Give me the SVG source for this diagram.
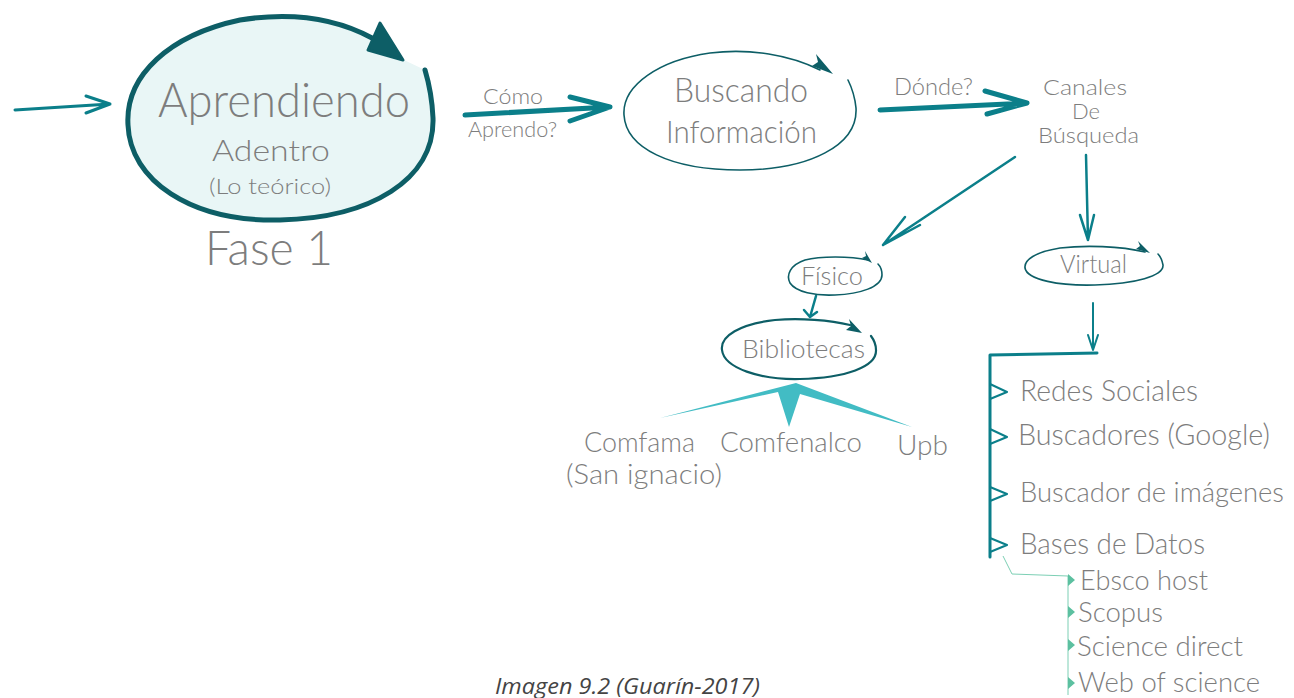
<svg xmlns="http://www.w3.org/2000/svg" width="1294" height="698" viewBox="0 0 1294 698">
<style>
.t{font-family:"Lato","Open Sans","Liberation Sans",sans-serif;font-weight:300;fill:#7d7d7d}
.c{fill:none;stroke:#0b7f8a;stroke-linecap:round;stroke-linejoin:round}
.d{fill:none;stroke:#0d5e66;stroke-linecap:round}
.h{fill:#0d5e66}
.g{fill:#5cc0a0}
</style>
<rect width="1294" height="698" fill="#fff"/>
<g id="connectors">
  <path class="c" stroke-width="3" d="M15,110 L110,104 M86,96 L110,104 L86,113"/>
  <path class="c" stroke-width="5" d="M465,115 L610,107 M570,97 L610,107 L570,121"/>
  <path class="c" stroke-width="5" d="M880,110 L1027,103 M985,91 L1027,103 L987,114"/>
  <path class="c" stroke-width="2.5" d="M1015,157 L883,245 M905,217 L883,245 M920,225 L883,245"/>
  <path class="c" stroke-width="2.5" d="M1086,155 L1088,240 M1080,215 L1088,240 L1094,215"/>
  <path class="c" stroke-width="2.5" d="M816,296 L810,317 M804,310 L810,317 L817,312"/>
  <path class="c" stroke-width="2" d="M1093,303 L1093,350 M1088,335 L1093,350 L1098,335"/>
  <path fill="#42bcc4" d="M660,418 L778,392 L789,427 L800,394 L912,427 L796,383 Z"/>
  <path class="c" stroke-width="3" d="M1097,353 L990,355 L990,557"/>
  <path class="c" stroke-width="2" d="M990,384 L1007,392 L990,399 M990,429 L1007,437 L990,444 M990,487 L1007,494 L990,501 M990,538 L1007,545 L990,552"/>
  <path fill="none" stroke="#7ccfb4" stroke-width="1" d="M1003,556 L1012,574 L1068,576 L1068,695"/>
  <path class="g" d="M1068,574 L1075,580 L1068,586 Z M1068,606 L1075,612 L1068,618 Z M1068,639 L1075,645 L1068,651 Z M1068,677 L1075,683 L1068,689 Z"/>
</g>
<g id="aprendiendo">
  <path fill="#e9f6f6" d="M372,38 C335,18 290,12 240,20 C170,35 125,75 128,125 C130,180 190,222 280,220 C370,218 435,180 433,118 C432,95 428,80 425,70 L404,60 Z"/>
  <path fill="none" stroke="#0d5e66" stroke-width="5" stroke-linecap="round" d="M372,38 C335,18 290,12 240,20 C170,35 125,75 128,125 C130,180 190,222 280,220 C370,218 435,180 433,118 C432,95 428,80 425,70"/>
  <path class="h" stroke="#0d5e66" stroke-width="3" stroke-linejoin="round" d="M403,60 L368,50 L380,23 Z"/>
  <text class="t" x="158" y="117" font-size="47" textLength="252" lengthAdjust="spacingAndGlyphs">Aprendiendo</text>
  <text class="t" x="212" y="161" font-size="30" textLength="118" lengthAdjust="spacingAndGlyphs">Adentro</text>
  <text class="t" x="209" y="194" font-size="21" textLength="122" lengthAdjust="spacingAndGlyphs">(Lo teórico)</text>
  <text class="t" x="205" y="265" font-size="48" textLength="128" lengthAdjust="spacingAndGlyphs">Fase 1</text>
</g>
<g id="como">
  <text class="t" x="483" y="104" font-size="21" textLength="60" lengthAdjust="spacingAndGlyphs">Cómo</text>
  <text class="t" x="468" y="137" font-size="21" textLength="89" lengthAdjust="spacingAndGlyphs">Aprendo?</text>
</g>
<g id="buscando">
  <path class="d" stroke-width="1.6" d="M820,70 C790,55 750,48 710,53 C660,60 622,85 624,115 C626,148 670,170 740,170 C810,170 858,145 856,108 C855,98 852,88 848,80"/>
  <path class="h" d="M833,74 L812,66 L818,62 L816,54 Z"/>
  <text class="t" x="674" y="102" font-size="33" textLength="134" lengthAdjust="spacingAndGlyphs">Buscando</text>
  <text class="t" x="666" y="143" font-size="32" textLength="151" lengthAdjust="spacingAndGlyphs">Información</text>
</g>
<g id="donde">
  <text class="t" x="894" y="95" font-size="23" textLength="79" lengthAdjust="spacingAndGlyphs">Dónde?</text>
</g>
<g id="canales">
  <text class="t" x="1043" y="95" font-size="21" textLength="84" lengthAdjust="spacingAndGlyphs">Canales</text>
  <text class="t" x="1072" y="119" font-size="21" textLength="28" lengthAdjust="spacingAndGlyphs">De</text>
  <text class="t" x="1038" y="143" font-size="21" textLength="101" lengthAdjust="spacingAndGlyphs">Búsqueda</text>
</g>
<g id="virtual">
  <path class="d" stroke-width="1.6" d="M1145,252 C1120,246 1085,245 1060,248 C1035,252 1024,260 1025,268 C1027,280 1060,286 1095,285 C1135,284 1164,276 1163,265 C1162,260 1160,256 1158,254"/>
  <path class="h" d="M1150,253 L1136,249 L1140,246 L1138,241 Z"/>
  <text class="t" x="1060" y="273" font-size="25" textLength="67" lengthAdjust="spacingAndGlyphs">Virtual</text>
</g>
<g id="fisico">
  <path class="d" stroke-width="1.6" d="M868,260 C850,256 820,256 805,260 C790,265 786,275 790,283 C796,292 815,296 835,295 C860,294 882,287 882,275 C882,270 880,266 878,264"/>
  <path class="h" d="M872,263 L862,258 L866,256 L865,251 Z"/>
  <text class="t" x="801" y="285" font-size="25" textLength="62" lengthAdjust="spacingAndGlyphs">Físico</text>
</g>
<g id="bibliotecas">
  <path class="d" stroke-width="2.2" d="M850,325 C830,320 800,318 775,320 C740,324 720,336 722,350 C724,368 760,380 800,379 C845,378 877,367 876,350 C876,344 874,340 871,336"/>
  <path class="h" d="M862,333 L846,330 L851,326 L849,319 Z"/>
  <text class="t" x="742" y="358" font-size="25" textLength="123" lengthAdjust="spacingAndGlyphs">Bibliotecas</text>
</g>
<g id="comfama">
  <text class="t" x="584" y="452" font-size="27" textLength="111" lengthAdjust="spacingAndGlyphs">Comfama</text>
  <text class="t" x="566" y="484" font-size="27" textLength="156" lengthAdjust="spacingAndGlyphs">(San ignacio)</text>
</g>
<g id="comfenalco"><text class="t" x="720" y="452" font-size="27" textLength="142" lengthAdjust="spacingAndGlyphs">Comfenalco</text></g>
<g id="upb"><text class="t" x="897" y="455" font-size="27" textLength="51" lengthAdjust="spacingAndGlyphs">Upb</text></g>
<g id="virtual-list">
  <text class="t" x="1020" y="401" font-size="29" textLength="178" lengthAdjust="spacingAndGlyphs">Redes Sociales</text>
  <text class="t" x="1018" y="445" font-size="29" textLength="252" lengthAdjust="spacingAndGlyphs">Buscadores (Google)</text>
  <text class="t" x="1020" y="502" font-size="27" textLength="264" lengthAdjust="spacingAndGlyphs">Buscador de imágenes</text>
  <text class="t" x="1020" y="554" font-size="29" textLength="185" lengthAdjust="spacingAndGlyphs">Bases de Datos</text>
</g>
<g id="bases">
  <text class="t" x="1080" y="590" font-size="28" textLength="128" lengthAdjust="spacingAndGlyphs">Ebsco host</text>
  <text class="t" x="1078" y="622" font-size="28" textLength="85" lengthAdjust="spacingAndGlyphs">Scopus</text>
  <text class="t" x="1077" y="656" font-size="28" textLength="166" lengthAdjust="spacingAndGlyphs">Science direct</text>
  <text class="t" x="1078" y="692" font-size="28" textLength="182" lengthAdjust="spacingAndGlyphs">Web of science</text>
</g>
<text x="495" y="694" font-size="22" font-style="italic" fill="#444" textLength="265" lengthAdjust="spacingAndGlyphs" font-family="'Open Sans','Liberation Sans',sans-serif">Imagen 9.2 (Guarín-2017)</text>
</svg>
